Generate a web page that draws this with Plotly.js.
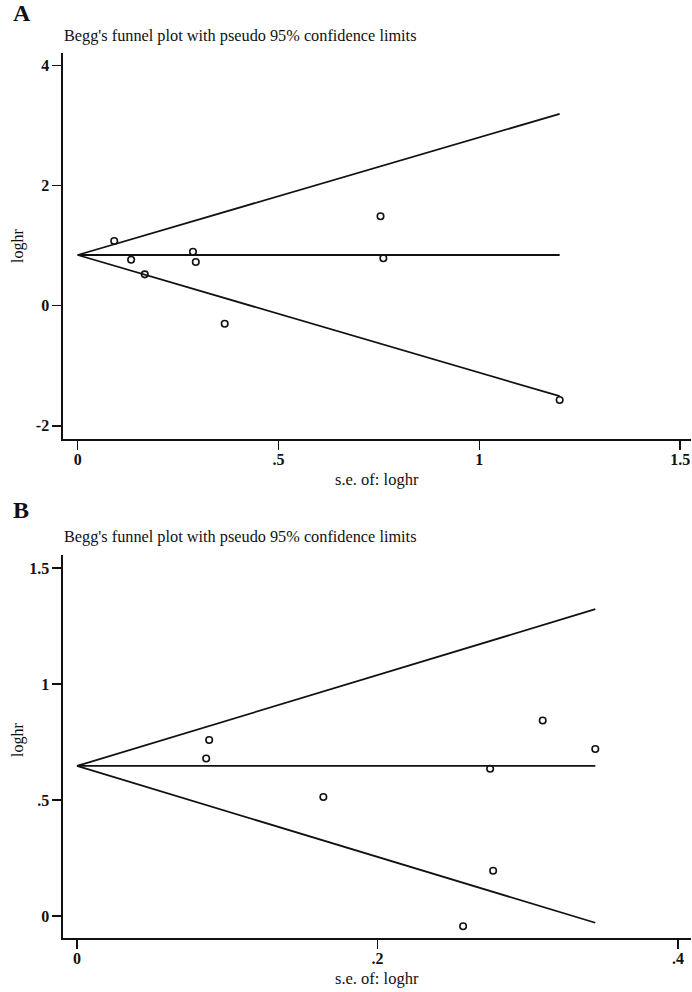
<!DOCTYPE html>
<html>
<head>
<meta charset="utf-8">
<script src="https://cdn.plot.ly/plotly-3.0.1.min.js"></script>
<style>html,body{margin:0;padding:0;background:#fff;}#chart{width:692px;height:992px;}</style>
</head>
<body>
<div id="chart"></div>
<script>
// Panel A data
const seA = [0.091, 0.133, 0.167, 0.287, 0.294, 0.366, 0.754, 0.761, 1.200];
const logA = [1.078, 0.767, 0.523, 0.900, 0.728, -0.300, 1.490, 0.790, -1.570];
const pooledA = 0.845;
const xTickValsA = [0, 0.5, 1, 1.5];
const xTickTextA = ['0', '.5', '1', '1.5'];
const yTickValsA = [-2, 0, 2, 4];
const yTickTextA = ['-2', '0', '2', '4'];

// Panel B data
const seB = [0.086, 0.088, 0.164, 0.257, 0.275, 0.277, 0.310, 0.345];
const logB = [0.679, 0.759, 0.513, -0.044, 0.635, 0.195, 0.843, 0.720];
const pooledB = 0.647;
const xTickValsB = [0, 0.2, 0.4];
const xTickTextB = ['0', '.2', '.4'];
const yTickValsB = [0, 0.5, 1, 1.5];
const yTickTextB = ['0', '.5', '1', '1.5'];

const z95 = 1.96;
const titleText = "Begg's funnel plot with pseudo 95% confidence limits";
const FONT = 'Liberation Serif, serif';

function funnelTraces(se, lg, pooled, xa, ya) {
  const maxSE = Math.max(...se);
  const lineStyle = {color: '#111', width: 1.8};
  return [
    {x: [0, maxSE], y: [pooled, pooled + z95 * maxSE], mode: 'lines', line: lineStyle, xaxis: xa, yaxis: ya, hoverinfo: 'skip'},
    {x: [0, maxSE], y: [pooled, pooled - z95 * maxSE], mode: 'lines', line: lineStyle, xaxis: xa, yaxis: ya, hoverinfo: 'skip'},
    {x: [0, maxSE], y: [pooled, pooled], mode: 'lines', line: lineStyle, xaxis: xa, yaxis: ya, hoverinfo: 'skip'},
    {x: se, y: lg, mode: 'markers', xaxis: xa, yaxis: ya,
     marker: {symbol: 'circle-open', size: 6.5, color: '#111', line: {color: '#111', width: 1.6}}}
  ];
}

const data = [].concat(
  funnelTraces(seA, logA, pooledA, 'x', 'y'),
  funnelTraces(seB, logB, pooledB, 'x2', 'y2')
);

const W = 692, H = 992;
const px = v => v / W;
const py = v => 1 - v / H;

const axisCommon = {
  showgrid: false, zeroline: false, showline: true, linecolor: '#111', linewidth: 1.6,
  ticks: 'outside', ticklen: 9, tickwidth: 1.5, tickcolor: '#111', ticklabelstandoff: -4,
  tickfont: {family: FONT, size: 16, color: '#111', weight: 'bold'}, automargin: false, fixedrange: true
};

const layout = {
  width: W, height: H,
  margin: {l: 0, r: 0, t: 0, b: 0},
  paper_bgcolor: '#fff', plot_bgcolor: '#fff',
  showlegend: false,
  font: {family: FONT, color: '#111'},
  xaxis: Object.assign({}, axisCommon, {domain: [px(63), px(691)], range: [-0.0366, 1.527], anchor: 'y',
    tickmode: 'array', tickvals: xTickValsA, ticktext: xTickTextA}),
  yaxis: Object.assign({}, axisCommon, {domain: [py(439), py(53)], range: [-2.22, 4.21], anchor: 'x',
    tickmode: 'array', tickvals: yTickValsA, ticktext: yTickTextA, ticklabelstandoff: 0}),
  xaxis2: Object.assign({}, axisCommon, {domain: [px(63), px(691)], range: [-0.0093, 0.4087], anchor: 'y2',
    tickmode: 'array', tickvals: xTickValsB, ticktext: xTickTextB}),
  yaxis2: Object.assign({}, axisCommon, {domain: [py(938), py(555)], range: [-0.095, 1.557], anchor: 'x2',
    tickmode: 'array', tickvals: yTickValsB, ticktext: yTickTextB, ticklabelstandoff: 0}),
  annotations: [
    {text: '<b>A</b>', x: px(11), y: py(13), xref: 'paper', yref: 'paper', xanchor: 'left', yanchor: 'middle', showarrow: false, font: {family: FONT, size: 24, color: '#111'}},
    {text: titleText, x: px(62), y: py(36), xref: 'paper', yref: 'paper', xanchor: 'left', yanchor: 'middle', showarrow: false, font: {family: FONT, size: 16.3, color: '#111'}},
    {text: 's.e. of: loghr', x: px(377), y: py(479), xref: 'paper', yref: 'paper', xanchor: 'center', yanchor: 'middle', showarrow: false, font: {family: FONT, size: 16.5, color: '#111'}},
    {text: 'loghr', x: px(18), y: py(246), xref: 'paper', yref: 'paper', xanchor: 'center', yanchor: 'middle', textangle: -90, showarrow: false, font: {family: FONT, size: 16, color: '#111'}},
    {text: '<b>B</b>', x: px(11), y: py(510), xref: 'paper', yref: 'paper', xanchor: 'left', yanchor: 'middle', showarrow: false, font: {family: FONT, size: 24, color: '#111'}},
    {text: titleText, x: px(62), y: py(536), xref: 'paper', yref: 'paper', xanchor: 'left', yanchor: 'middle', showarrow: false, font: {family: FONT, size: 16.3, color: '#111'}},
    {text: 's.e. of: loghr', x: px(377), y: py(978), xref: 'paper', yref: 'paper', xanchor: 'center', yanchor: 'middle', showarrow: false, font: {family: FONT, size: 16.5, color: '#111'}},
    {text: 'loghr', x: px(18), y: py(740), xref: 'paper', yref: 'paper', xanchor: 'center', yanchor: 'middle', textangle: -90, showarrow: false, font: {family: FONT, size: 16, color: '#111'}}
  ]
};

Plotly.newPlot('chart', data, layout, {staticPlot: true, displayModeBar: false});
</script>
</body>
</html>
